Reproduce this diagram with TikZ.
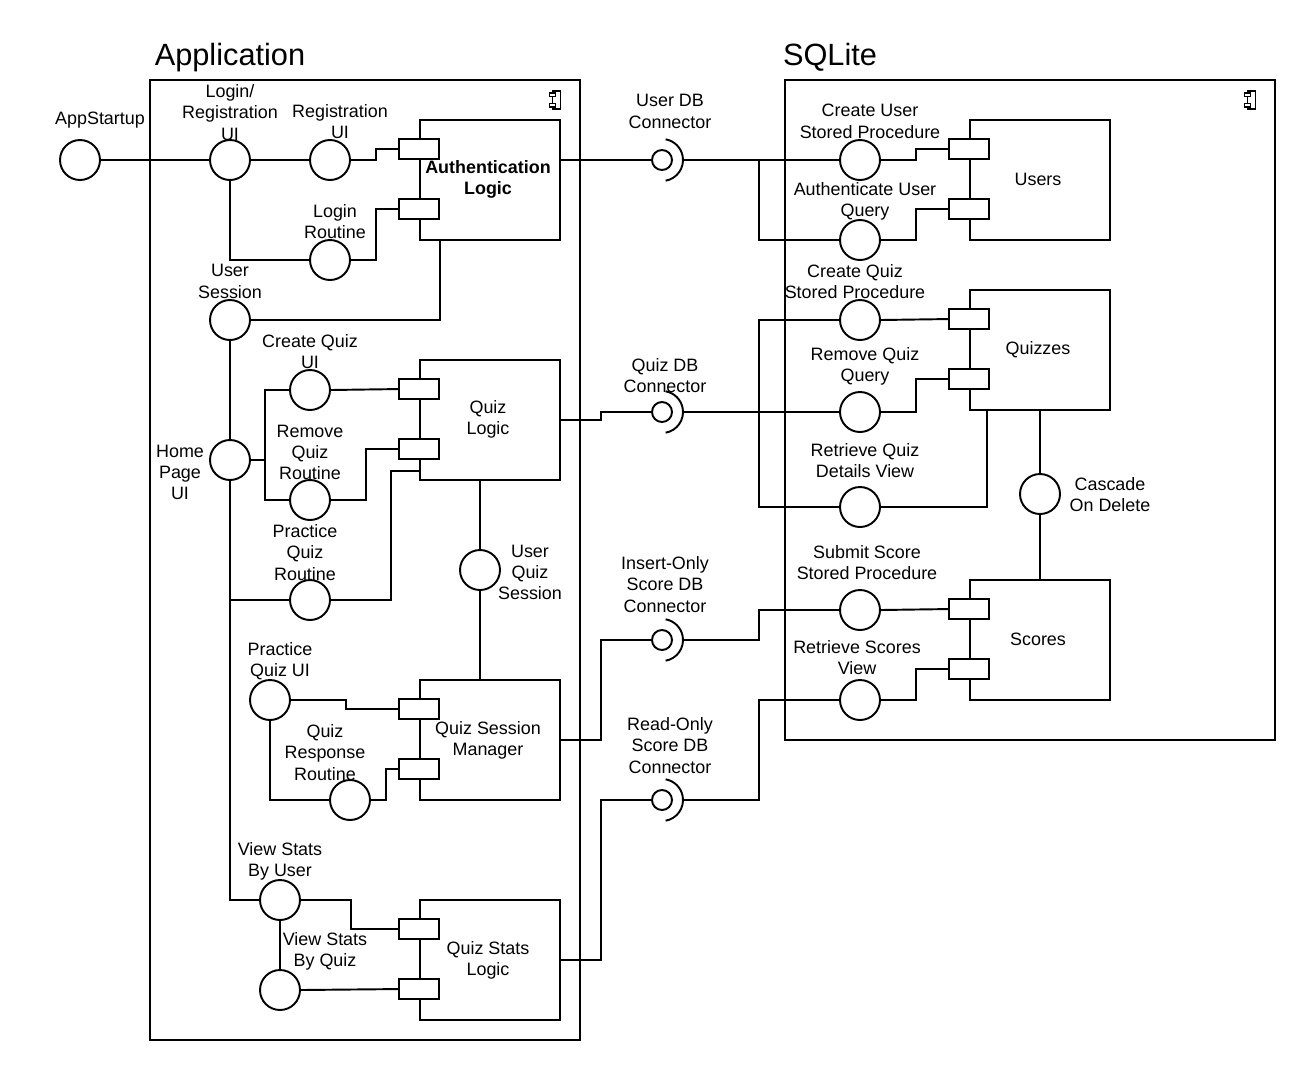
\documentclass[tikz,border=0pt]{standalone}
\usepackage{fontspec}
\setmainfont{Liberation Sans}
\usetikzlibrary{calc}

\begin{document}
\begin{tikzpicture}[x=0.02cm,y=-0.02cm,line width=1.1pt,
  font=\fontsize{10.2}{12.2}\selectfont,
  iface/.style={draw,circle,fill=white,minimum size=0.8cm,inner sep=0pt},
  ball/.style={draw,circle,fill=white,minimum size=0.4cm,inner sep=0pt},
  comp/.style={draw,fill=white,minimum width=2.8cm,minimum height=2.4cm,inner sep=0pt},
  port/.style={draw,fill=white,minimum width=0.8cm,minimum height=0.4cm,inner sep=0pt},
  lbl/.style={align=center,inner sep=0pt,yshift=-1.4pt}]
  \useasboundingbox[fill=white] (0,0) rectangle (1315,1080);

  % containers
  \draw (150,80) rectangle (580,1040);
  \draw (785,80) rectangle (1275,740);
  \node[yshift=-1.5pt] (apptitle) at (230,55) {\fontsize{17.5}{20}\selectfont Application};
  \node[yshift=-1.5pt] (dbtitle) at (830,55) {\fontsize{17.5}{20}\selectfont SQLite};
  \foreach \x in {556.5,1251.5} {
    \draw[line width=0.6pt] (\x-4.2,91) rectangle (\x+4.2,109);
    \draw[line width=0.6pt,fill=white] (\x-7.2,93) rectangle (\x-0.8,96.5);
    \draw[line width=0.6pt,fill=white] (\x-7.2,103.5) rectangle (\x-0.8,107);
  }

  % components
  \node[comp] (auth) at (490,180) {};
  \node[comp] (qlogic) at (490,420) {};
  \node[comp] (qsm) at (490,740) {};
  \node[comp] (qsl) at (490,960) {};
  \node[comp] (users) at (1040,180) {};
  \node[comp] (quizzes) at (1040,350) {};
  \node[comp] (scores) at (1040,640) {};
  \foreach \b in {auth,qlogic,qsm,qsl,users,quizzes,scores} {
    \node[port] (\b-p1) at ($(\b.north west)+(0,30)$) {};
    \node[port] (\b-p2) at ($(\b.north west)+(0,90)$) {};
  }
  \node[lbl,font=\fontsize{10.2}{12.2}\selectfont\bfseries] (authlbl) at (488,177) {Authentication\\Logic};
  \node[lbl] (qlogiclbl) at (488,417) {Quiz\\Logic};
  \node[lbl] (qsmlbl) at (488,738) {Quiz Session\\Manager};
  \node[lbl] (qsllbl) at (488,958) {Quiz Stats\\Logic};
  \node[lbl] (userslbl) at (1038,177) {Users};
  \node[lbl] (quizzeslbl) at (1038,347) {Quizzes};
  \node[lbl] (scoreslbl) at (1038,637) {Scores};

  % interfaces
  \node[iface] (appstart) at (80,160) {};
  \node[iface] (lrui) at (230,160) {};
  \node[iface] (regui) at (330,160) {};
  \node[iface] (loginr) at (330,260) {};
  \node[iface] (usess) at (230,320) {};
  \node[iface] (home) at (230,460) {};
  \node[iface] (cqui) at (310,390) {};
  \node[iface] (rqr) at (310,500) {};
  \node[iface] (pqr) at (310,600) {};
  \node[iface] (uqs) at (480,570) {};
  \node[iface] (pqui) at (270,700) {};
  \node[iface] (qrr) at (350,800) {};
  \node[iface] (vsbu) at (280,900) {};
  \node[iface] (vsbq) at (280,990) {};
  \node[iface] (cusp) at (860,160) {};
  \node[iface] (aquery) at (860,240) {};
  \node[iface] (cqsp) at (860,320) {};
  \node[iface] (rqq) at (860,412) {};
  \node[iface] (rqdv) at (860,507) {};
  \node[iface] (cascade) at (1040,494) {};
  \node[iface] (ssp) at (860,610) {};
  \node[iface] (rsv) at (860,700) {};

  % ball and socket connectors
  \node[ball] (udb) at (662,160) {};
  \node[ball] (qdb) at (662,412) {};
  \node[ball] (iodb) at (662,640) {};
  \node[ball] (rodb) at (662,800) {};
  \foreach \c in {udb,qdb,iodb,rodb}
    \draw ($(\c)+(80:21)$) arc[start angle=80,end angle=-80,radius=21];

  % labels
  \node[lbl] (appstartlbl) at (100,118) {AppStartup};
  \node[lbl] (lruilbl) at (230,110) {Login/\\Registration\\UI};
  \node[lbl] (reguilbl) at (340,119) {Registration\\UI};
  \node[lbl] (loginrlbl) at (335,219) {Login\\Routine};
  \node[lbl] (usesslbl) at (230,279) {User\\Session};
  \node[lbl] (cquilbl) at (310,349) {Create Quiz\\UI};
  \node[lbl] (homelbl) at (180,470) {Home\\Page\\UI};
  \node[lbl] (rqrlbl) at (310,450) {Remove\\Quiz\\Routine};
  \node[lbl] (pqrlbl) at (305,550) {Practice\\Quiz\\Routine};
  \node[lbl] (uqslbl) at (530,570) {User\\Quiz\\Session};
  \node[lbl] (pquilbl) at (280,659) {Practice\\Quiz UI};
  \node[lbl] (qrrlbl) at (325,750) {Quiz\\Response\\Routine};
  \node[lbl] (vsbulbl) at (280,859) {View Stats\\By User};
  \node[lbl] (vsbqlbl) at (325,949) {View Stats\\By Quiz};
  \node[lbl] (udblbl) at (670,109) {User DB\\Connector};
  \node[lbl] (qdblbl) at (665,373) {Quiz DB\\Connector};
  \node[lbl] (iodblbl) at (665,582) {Insert-Only\\Score DB\\Connector};
  \node[lbl] (rodblbl) at (670,743) {Read-Only\\Score DB\\Connector};
  \node[lbl] (cusplbl) at (870,119) {Create User\\Stored Procedure};
  \node[lbl] (aquerylbl) at (865,199) {Authenticate User\\Query};
  \node[lbl] (cqsplbl) at (855,279) {Create Quiz\\Stored Procedure};
  \node[lbl] (rqqlbl) at (865,364) {Remove Quiz\\Query};
  \node[lbl] (rqdvlbl) at (865,458) {Retrieve Quiz\\Details View};
  \node[lbl] (cascadelbl) at (1110,492) {Cascade\\On Delete};
  \node[lbl] (ssplbl) at (867,560) {Submit Score\\Stored Procedure};
  \node[lbl] (rsvlbl) at (857,655) {Retrieve Scores\\View};

  % application wiring
  \draw (appstart) -- (lrui);
  \draw (lrui) -- (regui);
  \draw (regui.east) -- ++(25,0) |- (auth-p1.west);
  \draw (lrui.south) |- (loginr.west);
  \draw (loginr.east) -- ++(25,0) |- (auth-p2.west);
  \draw (auth-p2.east |- auth.south) |- (usess.east);
  \draw (usess) -- (home);
  \draw (home.south) |- (vsbu.west);
  \coordinate (hub) at (265,460);
  \draw (home.east) -- (hub);
  \draw (cqui.west) -| (hub) |- (rqr.west);
  \draw (cqui.east) -- (qlogic-p1.west);
  \draw (rqr.east) -- ++(35,0) |- (qlogic-p2.west);
  \draw (home.south |- pqr.west) -- (pqr.west);
  \draw (pqr.east) -- ++(60,0) |- ($(qlogic.south west)+(0,-10)$);
  \draw (uqs.north |- qlogic.south) -- (uqs.north);
  \draw (uqs.south) -- (uqs.south |- qsm.north);
  \draw (pqui.east) -- ++(55,0) |- (qsm-p1.west);
  \draw (pqui.south) |- (qrr.west);
  \draw (qrr.east) -- ++(15,0) |- (qsm-p2.west);
  \draw (vsbu.east) -- ++(50,0) |- (qsl-p1.west);
  \draw (vsbu) -- (vsbq);
  \draw (vsbq.east) -- (qsl-p2.west);

  % connectors between application and database
  \draw (auth.east |- udb.west) -- (udb.west);
  \draw ($(udb.east)+(11,0)$) -- (cusp.west);
  \draw (qlogic.east) -- ++(40,0) |- (qdb.west);
  \draw ($(qdb.east)+(11,0)$) -- (rqq.west);
  \draw (qsm.east) -- ++(40,0) |- (iodb.west);
  \draw ($(iodb.east)+(11,0)$) -| ($(ssp.west)+(-80,0)$) -- (ssp.west);
  \draw (qsl.east) -- ++(40,0) |- (rodb.west);
  \draw ($(rodb.east)+(11,0)$) -| ($(rsv.west)+(-80,0)$) -- (rsv.west);

  % database wiring
  \draw (aquery.west) -- ++(-80,0) |- (cusp.west);
  \draw (cusp.east) -- ++(35,0) |- (users-p1.west);
  \draw (aquery.east) -- ++(35,0) |- (users-p2.west);
  \draw (cqsp.west) -- ++(-80,0) |- (rqdv.west);
  \draw (cqsp.east) -- (quizzes-p1.west);
  \draw (rqq.east) -- ++(35,0) |- (quizzes-p2.west);
  \draw (rqdv.east) -| ($(quizzes.south west)+(18,0)$);
  \draw (quizzes) -- (cascade);
  \draw (cascade) -- (scores);
  \draw (ssp.east) -- (scores-p1.west);
  \draw (rsv.east) -- ++(35,0) |- (scores-p2.west);
\end{tikzpicture}
\end{document}
